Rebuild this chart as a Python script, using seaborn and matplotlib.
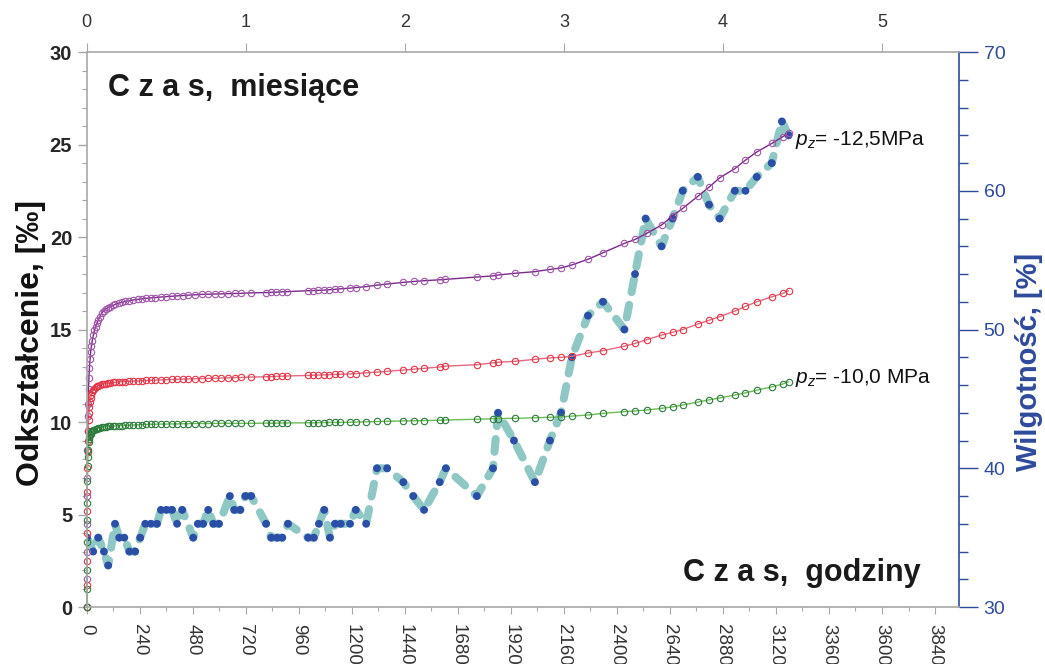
import matplotlib
matplotlib.use("Agg")
import matplotlib.pyplot as plt
import seaborn as sns
import numpy as np
from matplotlib.ticker import MultipleLocator

sns.set_theme(style="white")
plt.rcParams["font.family"] = ["Liberation Sans", "DejaVu Sans"]
plt.rcParams["mathtext.fontset"] = "custom"
plt.rcParams["mathtext.rm"] = "Liberation Sans"
plt.rcParams["mathtext.it"] = "Liberation Sans:italic"

# ---------------- data ----------------
# strain measurement times [h]
czas_pocz = [0, 0.25, 0.5, 1, 1.5, 2, 3, 4, 5, 6, 8, 10, 12, 15, 18, 21, 25, 30, 35, 40,
             46, 52, 60, 68, 76, 85, 95, 105, 118, 130, 145, 160, 175, 190, 210, 230, 250,
             270, 290, 310, 335, 360, 385, 410, 435, 460, 490, 520, 550, 580, 610, 640, 670, 700]
czas_dalej = [744, 812, 835, 858, 884, 907, 1003, 1026, 1049, 1072, 1095, 1122, 1145, 1192,
              1218, 1265, 1314, 1360, 1433, 1482, 1527, 1598, 1622, 1766, 1839, 1862, 1937,
              2029, 2097, 2147, 2196, 2269, 2337, 2434, 2482, 2535, 2602, 2652, 2698, 2766,
              2817, 2865, 2934, 2982, 3033, 3101, 3150, 3177]

# strain, pz = -12.5 MPa (purple)
odkszt_fiolet_pocz = [0, 1.5, 3.0, 4.5, 6.0, 7.0, 8.5, 9.5, 10.3, 11.0, 11.8, 12.4, 12.9, 13.4,
                      13.8, 14.1, 14.4, 14.7, 14.95, 15.15, 15.35, 15.5, 15.7, 15.9, 16.0, 16.1,
                      16.17, 16.23, 16.3, 16.36, 16.42, 16.47, 16.52, 16.55, 16.6, 16.63, 16.66,
                      16.69, 16.71, 16.73, 16.76, 16.78, 16.8, 16.82, 16.84, 16.86, 16.88, 16.9,
                      16.91, 16.92, 16.93, 16.94, 16.95, 16.96]
odkszt_fiolet_dalej = [16.98, 17.0, 17.01, 17.02, 17.04, 17.05, 17.1, 17.11, 17.12, 17.13, 17.15,
                       17.17, 17.2, 17.24, 17.27, 17.32, 17.4, 17.46, 17.55, 17.6, 17.64, 17.69,
                       17.71, 17.84, 17.9, 17.95, 18.04, 18.13, 18.25, 18.33, 18.49, 18.8, 19.15,
                       19.66, 19.87, 20.2, 20.65, 21.14, 21.55, 22.2, 22.7, 23.2, 23.7, 24.16,
                       24.6, 25.06, 25.42, 25.6]

# strain, middle series (red)
odkszt_czerw_pocz = [0, 1.2, 2.5, 4.0, 5.2, 6.2, 7.5, 8.4, 9.0, 9.5, 10.1, 10.5, 10.8, 11.1,
                     11.3, 11.45, 11.6, 11.72, 11.8, 11.87, 11.93, 11.97, 12.0, 12.03, 12.06,
                     12.08, 12.1, 12.12, 12.14, 12.15, 12.17, 12.18, 12.19, 12.2, 12.21, 12.22,
                     12.24, 12.25, 12.26, 12.27, 12.28, 12.29, 12.3, 12.31, 12.32, 12.33, 12.34,
                     12.35, 12.36, 12.37, 12.38, 12.39, 12.4, 12.41]
odkszt_czerw_dalej = [12.43, 12.45, 12.46, 12.47, 12.48, 12.49, 12.52, 12.53, 12.54, 12.55,
                      12.56, 12.57, 12.58, 12.6, 12.62, 12.66, 12.7, 12.74, 12.81, 12.86, 12.9,
                      12.98, 13.02, 13.1, 13.2, 13.23, 13.28, 13.39, 13.47, 13.5, 13.55, 13.73,
                      13.86, 14.1, 14.25, 14.45, 14.7, 14.85, 15.0, 15.3, 15.5, 15.7, 16.0,
                      16.25, 16.5, 16.77, 16.95, 17.1]

# strain, pz = -10.0 MPa (green)
odkszt_ziel_pocz = [0, 1.0, 2.0, 3.5, 4.7, 5.6, 6.8, 7.6, 8.1, 8.5, 8.9, 9.1, 9.2, 9.3, 9.38,
                    9.44, 9.5, 9.55, 9.59, 9.62, 9.65, 9.67, 9.69, 9.71, 9.73, 9.75, 9.76, 9.77,
                    9.78, 9.79, 9.8, 9.81, 9.82, 9.83, 9.84, 9.85, 9.86, 9.87, 9.88, 9.88, 9.89,
                    9.89, 9.9, 9.9, 9.91, 9.91, 9.92, 9.92, 9.92, 9.93, 9.93, 9.93, 9.93, 9.93]
odkszt_ziel_dalej = [9.93, 9.94, 9.94, 9.94, 9.95, 9.95, 9.96, 9.96, 9.97, 9.97, 9.98, 9.98,
                     9.98, 9.99, 10.0, 10.01, 10.03, 10.04, 10.06, 10.07, 10.08, 10.1, 10.11,
                     10.15, 10.18, 10.19, 10.2, 10.23, 10.26, 10.28, 10.32, 10.38, 10.47, 10.56,
                     10.6, 10.65, 10.74, 10.82, 10.92, 11.08, 11.2, 11.3, 11.46, 11.58, 11.72,
                     11.9, 12.05, 12.18]

# moisture content
czas_wilg = [1.5, 29, 52, 78, 97, 128, 147, 170, 193, 219, 242, 265, 290, 318, 336, 360, 386,
             409, 432, 482, 503, 527, 550, 573, 599, 648, 668, 695, 718, 744, 812, 835, 862,
             885, 911, 1002, 1028, 1051, 1075, 1101, 1124, 1150, 1192, 1218, 1265, 1314, 1360,
             1433, 1478, 1527, 1598, 1626, 1766, 1839, 1862, 1934, 2029, 2097, 2147, 2196,
             2269, 2337, 2434, 2482, 2530, 2602, 2652, 2698, 2766, 2817, 2865, 2934, 2982,
             3033, 3101, 3147, 3177]
wilgotnosc = [35, 34, 35, 34, 33, 36, 35, 35, 34, 34, 35, 36, 36, 36, 37, 37, 37, 36, 37, 35,
              36, 36, 37, 36, 36, 38, 37, 37, 38, 38, 36, 35, 35, 35, 36, 35, 35, 36, 37, 35,
              36, 36, 36, 37, 36, 40, 40, 39, 38, 37, 39, 40, 38, 40, 44, 42, 39, 42, 44, 48,
              51, 52, 50, 54, 58, 56, 58, 60, 61, 59, 58, 60, 60, 61, 62, 65, 64]

x_ticks_h = list(range(0, 3841, 240))
x_ticks_mies = [0, 1, 2, 3, 4, 5]

# ---------------- style ----------------
GREY = "#a8a8a8"
BLUE = "#2f4a9c"
DOT = "#2b4ea6"
TEAL = "#8fc7c4"
series = [
    (odkszt_fiolet_pocz + odkszt_fiolet_dalej, "#7a2a8a", "#a055aa"),
    (odkszt_czerw_pocz + odkszt_czerw_dalej, "#e36a80", "#e43545"),
    (odkszt_ziel_pocz + odkszt_ziel_dalej, "#6cbd55", "#2d7a3d"),
]
czas_odkszt = czas_pocz + czas_dalej

fig = plt.figure(figsize=(10.45, 6.64), dpi=100)
ax = fig.add_axes([0.083, 0.0858, 0.835, 0.8358])
ax2 = ax.twinx()

# moisture (right axis)
sns.lineplot(x=czas_wilg, y=wilgotnosc, ax=ax2, color=TEAL, linewidth=5.8,
             linestyle=(0, (1.6, 1.6)), dash_capstyle="round", estimator=None,
             sort=False, legend=False)
sns.scatterplot(x=czas_wilg, y=wilgotnosc, ax=ax2, color=DOT, s=32, edgecolor="none",
                legend=False, zorder=3)

# strain (left axis)
for vals, lc, mc in series:
    sns.lineplot(x=czas_odkszt, y=vals, ax=ax, color=lc, linewidth=1.0, marker="o",
                 markersize=4.6, markerfacecolor="none", markeredgecolor=mc,
                 markeredgewidth=0.8, estimator=None, sort=False, legend=False,
                 clip_on=False)

ax.set_zorder(ax2.get_zorder() + 1)
ax.patch.set_visible(False)

# left axis
ax.set_xlim(0, 3950)
ax.set_ylim(0, 30)
ax.xaxis.set_major_locator(MultipleLocator(240))
ax.xaxis.set_minor_locator(MultipleLocator(120))
ax.set_xticks(x_ticks_h)
ax.set_xticklabels([str(t) for t in x_ticks_h])
ax.yaxis.set_major_locator(MultipleLocator(5))
ax.yaxis.set_minor_locator(MultipleLocator(1))
ax.tick_params(axis="y", which="major", direction="out", length=6.5, width=1, color=GREY,
               labelsize=14.5, pad=4, left=True)
ax.tick_params(axis="y", which="minor", direction="out", length=3.5, width=0.8, color=GREY,
               left=True)
ax.tick_params(axis="x", which="major", direction="out", length=5, width=0.8, color=GREY,
               labelsize=13.5, labelrotation=-90, pad=7, labelcolor="#333333", bottom=True)
ax.tick_params(axis="x", which="minor", direction="out", length=3, width=0.8, color=GREY,
               bottom=True)
for lbl in ax.get_yticklabels():
    lbl.set_fontweight("bold")
for s in ["top", "right"]:
    ax.spines[s].set_visible(False)
for s in ["left", "bottom"]:
    ax.spines[s].set_color(GREY)
    ax.spines[s].set_linewidth(1.2)
ax.set_xlabel("")
ax.set_ylabel("Odkształcenie, [‰]", fontsize=23, fontweight="bold", color="#111111")
ax.yaxis.set_label_coords(-0.047, 0.476)
ax.grid(False)

# top axis (months)
sec = ax.secondary_xaxis("top", functions=(lambda h: np.asarray(h) / 720.0,
                                           lambda m: np.asarray(m) * 720.0))
sec.set_xticks(x_ticks_mies)
sec.tick_params(axis="x", direction="out", length=6.5, width=0.8, color=GREY,
                labelsize=13, labelcolor="#333333", pad=9)
sec.spines["top"].set_color(GREY)
sec.spines["top"].set_linewidth(1.2)

# right axis
ax2.set_ylim(30, 70)
ax2.yaxis.set_major_locator(MultipleLocator(10))
ax2.yaxis.set_minor_locator(MultipleLocator(2))
ax2.tick_params(axis="y", which="major", direction="out", length=13.5, width=1, color=BLUE,
                labelcolor=BLUE, labelsize=14, pad=4, right=True)
ax2.tick_params(axis="y", which="minor", direction="out", length=6.5, width=1, color=BLUE,
                right=True)
for s in ["top", "left", "bottom"]:
    ax2.spines[s].set_visible(False)
ax2.spines["right"].set_color(BLUE)
ax2.spines["right"].set_linewidth(1.2)
ax2.set_ylabel("Wilgotność, [%]", fontsize=21, fontweight="bold", color=BLUE)
ax2.yaxis.set_label_coords(1.064, 0.441)
ax2.grid(False)

# texts
ax.text(0.0244, 0.935, "C z a s,  miesiące", transform=ax.transAxes, fontsize=22,
        fontweight="bold", color="#1a1a1a", ha="left", va="center")
ax.text(0.683, 0.061, "C z a s,  godziny", transform=ax.transAxes, fontsize=22,
        fontweight="bold", color="#1a1a1a", ha="left", va="center")
ax.text(0.812, 0.841, r"$p_z$= -12,5MPa", transform=ax.transAxes, fontsize=15,
        color="#111111", ha="left", va="center")
ax.text(0.812, 0.4126, r"$p_z$= -10,0 MPa", transform=ax.transAxes, fontsize=15,
        color="#111111", ha="left", va="center")

fig.savefig("out.png", dpi=100)
